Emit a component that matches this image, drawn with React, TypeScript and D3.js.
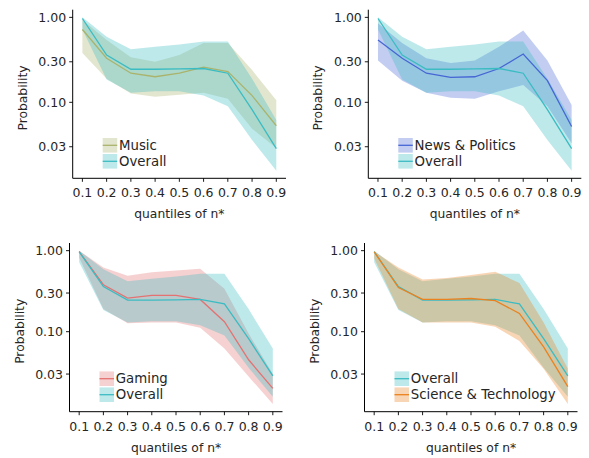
import React from "react";
import * as d3 from "d3";

const quantiles = [0.1, 0.2, 0.3, 0.4, 0.5, 0.6, 0.7, 0.8, 0.9];
const xTickLabels = ["0.1", "0.2", "0.3", "0.4", "0.5", "0.6", "0.7", "0.8", "0.9"];
const yTicks = [1.0, 0.3, 0.1, 0.03];
const yTickLabels = ["1.00", "0.30", "0.10", "0.03"];

const overallMean = [0.97, 0.36, 0.245, 0.245, 0.247, 0.25, 0.22, 0.082, 0.0285];
const overallLow = [0.72, 0.185, 0.13, 0.135, 0.135, 0.12, 0.09, 0.036, 0.0157];
const overallHigh = [1.0, 0.59, 0.42, 0.45, 0.48, 0.52, 0.52, 0.19, 0.062];

const musicMean = [0.72, 0.33, 0.22, 0.2, 0.22, 0.26, 0.23, 0.12, 0.053];
const musicLow = [0.38, 0.19, 0.127, 0.116, 0.123, 0.13, 0.11, 0.049, 0.029];
const musicHigh = [0.93, 0.54, 0.34, 0.3, 0.36, 0.5, 0.5, 0.24, 0.106];

const newsMean = [0.54, 0.33, 0.22, 0.197, 0.2, 0.25, 0.37, 0.18, 0.052];
const newsLow = [0.31, 0.18, 0.13, 0.113, 0.11, 0.135, 0.16, 0.09, 0.033];
const newsHigh = [0.85, 0.5, 0.33, 0.29, 0.31, 0.45, 0.7, 0.31, 0.093];

const gamingMean = [0.97, 0.38, 0.26, 0.28, 0.28, 0.25, 0.133, 0.045, 0.02];
const gamingLow = [0.82, 0.19, 0.127, 0.13, 0.13, 0.112, 0.062, 0.028, 0.0128];
const gamingHigh = [1.0, 0.62, 0.49, 0.54, 0.57, 0.6, 0.34, 0.095, 0.03];

const sciMean = [0.97, 0.35, 0.25, 0.25, 0.257, 0.242, 0.168, 0.065, 0.021];
const sciLow = [0.8, 0.19, 0.13, 0.13, 0.13, 0.115, 0.077, 0.035, 0.0128];
const sciHigh = [0.98, 0.62, 0.44, 0.46, 0.5, 0.55, 0.4, 0.13, 0.035];

const COL_OVERALL = "#3bbcc2";
const COL_MUSIC = "#aab36c";
const COL_NEWS = "#4666d4";
const COL_GAMING = "#e47272";
const COL_SCI = "#eb821e";

type Series = { name: string; color: string; mean: number[]; low: number[]; high: number[] };

const overall: Series = { name: "Overall", color: COL_OVERALL, mean: overallMean, low: overallLow, high: overallHigh };
const music: Series = { name: "Music", color: COL_MUSIC, mean: musicMean, low: musicLow, high: musicHigh };
const news: Series = { name: "News & Politics", color: COL_NEWS, mean: newsMean, low: newsLow, high: newsHigh };
const gaming: Series = { name: "Gaming", color: COL_GAMING, mean: gamingMean, low: gamingLow, high: gamingHigh };
const sci: Series = { name: "Science & Technology", color: COL_SCI, mean: sciMean, low: sciLow, high: sciHigh };

const panels = [
  { box: { x0: 72.7, x1: 286, y0: 9.7, y1: 178.3 }, series: [music, overall] },
  { box: { x0: 368.3, x1: 581.3, y0: 9.7, y1: 178.3 }, series: [news, overall] },
  { box: { x0: 69.5, x1: 282.5, y0: 243, y1: 411.7 }, series: [gaming, overall] },
  { box: { x0: 364.5, x1: 577.5, y0: 243, y1: 411.7 }, series: [overall, sci] },
];

const FONT = "DejaVu Sans, sans-serif";
const TEXT = "#262626";

function Panel({ box, series }: { box: { x0: number; x1: number; y0: number; y1: number }; series: Series[] }) {
  const xmin = d3.min(quantiles)!;
  const xmax = d3.max(quantiles)!;
  const xm = (xmax - xmin) * 0.05;
  const x = d3.scaleLinear().domain([xmin - xm, xmax + xm]).range([box.x0, box.x1]);

  const allVals = series.flatMap((s) => [...s.low, ...s.high, ...s.mean]);
  const lmin = Math.log10(d3.min(allVals)!);
  const lmax = Math.log10(d3.max(allVals)!);
  const lm = (lmax - lmin) * 0.05;
  const y = d3
    .scaleLog()
    .domain([Math.pow(10, lmin - lm), Math.pow(10, lmax + lm)])
    .range([box.y1, box.y0]);

  const area = (s: Series) =>
    d3
      .area<number>()
      .x((_, i) => x(quantiles[i]))
      .y0((_, i) => y(s.low[i]))
      .y1((_, i) => y(s.high[i]))(s.mean) || "";
  const line = (s: Series) =>
    d3
      .line<number>()
      .x((_, i) => x(quantiles[i]))
      .y((d) => y(d))(s.mean) || "";

  const tick = 3.5;
  const legX = box.x0 + 30;
  const legRows = [box.y1 - 33, box.y1 - 17];

  return (
    <g>
      {series.map((s, i) => (
        <path key={"a" + i} d={area(s)} fill={s.color} fillOpacity={0.33} stroke="none" />
      ))}
      {series.map((s, i) => (
        <path key={"l" + i} d={line(s)} fill="none" stroke={s.color} strokeWidth={1.3} />
      ))}
      <line x1={box.x0} x2={box.x0} y1={box.y0} y2={box.y1} stroke="#000" strokeWidth={1} />
      <line x1={box.x0} x2={box.x1} y1={box.y1} y2={box.y1} stroke="#000" strokeWidth={1} />
      {quantiles.map((q, i) => (
        <g key={"xt" + i}>
          <line x1={x(q)} x2={x(q)} y1={box.y1} y2={box.y1 + tick} stroke="#000" strokeWidth={0.9} />
          <text
            x={x(q)}
            y={box.y1 + 14.5}
            textAnchor="middle"
            dominantBaseline="central"
            fontSize={12.5}
            fontFamily={FONT}
            fill={TEXT}
          >
            {xTickLabels[i]}
          </text>
        </g>
      ))}
      {yTicks.map((v, i) => (
        <g key={"yt" + i}>
          <line x1={box.x0 - tick} x2={box.x0} y1={y(v)} y2={y(v)} stroke="#000" strokeWidth={0.9} />
          <text
            x={box.x0 - tick - 3}
            y={y(v)}
            textAnchor="end"
            dominantBaseline="central"
            fontSize={12.5}
            fontFamily={FONT}
            fill={TEXT}
          >
            {yTickLabels[i]}
          </text>
        </g>
      ))}
      <text
        x={(box.x0 + box.x1) / 2}
        y={box.y1 + 36}
        textAnchor="middle"
        dominantBaseline="central"
        fontSize={12.3}
        fontFamily={FONT}
        fill={TEXT}
      >
        quantiles of n*
      </text>
      <text
        transform={`translate(${box.x0 - 50},${(box.y0 + box.y1) / 2 + 4}) rotate(-90)`}
        textAnchor="middle"
        dominantBaseline="central"
        fontSize={12.3}
        fontFamily={FONT}
        fill={TEXT}
      >
        Probability
      </text>
      {series.map((s, i) => (
        <g key={"lg" + i}>
          <rect x={legX} y={legRows[i] - 7.3} width={14.5} height={14.6} fill={s.color} fillOpacity={0.33} />
          <line x1={legX} x2={legX + 14.5} y1={legRows[i]} y2={legRows[i]} stroke={s.color} strokeWidth={1.3} />
          <text
            x={legX + 16.3}
            y={legRows[i]}
            dominantBaseline="central"
            fontSize={13.3}
            fontFamily={FONT}
            fill={TEXT}
          >
            {s.name}
          </text>
        </g>
      ))}
    </g>
  );
}

export default function App() {
  return (
    <svg
      width={589}
      height={458}
      viewBox="0 0 589 458"
      style={{ position: "absolute", left: 0, top: 0, background: "#fff" }}
    >
      <rect x={0} y={0} width={589} height={458} fill="#fff" />
      {panels.map((p, i) => (
        <Panel key={i} box={p.box} series={p.series} />
      ))}
    </svg>
  );
}
